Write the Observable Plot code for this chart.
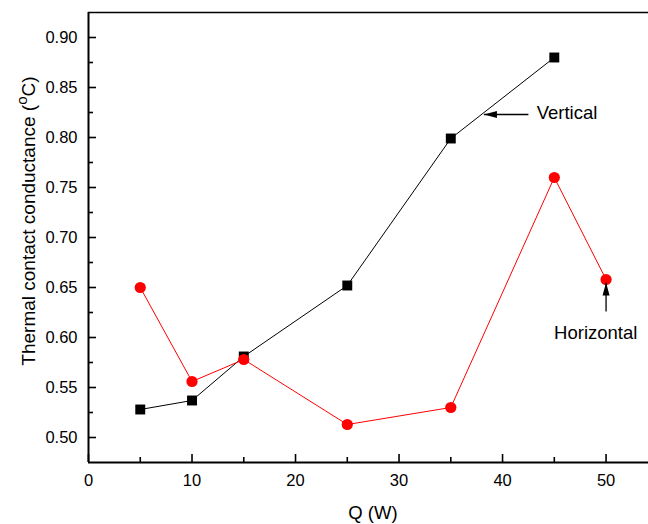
<!DOCTYPE html>
<html>
<head>
<meta charset="utf-8">
<script src="https://cdn.jsdelivr.net/npm/d3@7"></script>
<script src="https://cdn.jsdelivr.net/npm/@observablehq/plot@0.6"></script>
<style>
  html, body { margin: 0; padding: 0; background: #fff; }
</style>
</head>
<body>
<div id="chart"></div>
<script>
// Heat input Q (W) for each orientation
const qVertical = [5, 10, 15, 25, 35, 45];
const qHorizontal = [5, 10, 15, 25, 35, 45, 50];

// Thermal contact conductance values
const conductanceVertical = [0.528, 0.537, 0.581, 0.652, 0.799, 0.880];
const conductanceHorizontal = [0.650, 0.556, 0.578, 0.513, 0.530, 0.760, 0.658];

// Axis ticks
const xMajorTicks = [0, 10, 20, 30, 40, 50];
const xMinorTicks = [5, 15, 25, 35, 45];
const yMajorTicks = [0.50, 0.55, 0.60, 0.65, 0.70, 0.75, 0.80, 0.85, 0.90];
const yMinorTicks = [0.525, 0.575, 0.625, 0.675, 0.725, 0.775, 0.825, 0.875];

// Series callouts: label, label anchor, arrow tail and tip (data units)
const calloutLabels = ["Vertical", "Horizontal"];
const calloutTextX = [43.3, 49.0];
const calloutTextY = [0.824, 0.604];
const calloutTailX = [42.5, 50];
const calloutTailY = [0.823, 0.626];
const calloutTipX = [38.2, 50];
const calloutTipY = [0.823, 0.655];

const xDomain = [0, 54.1];
const yDomain = [0.475, 0.925];

const vertical = qVertical.map((q, i) => ({q, k: conductanceVertical[i]}));
const horizontal = qHorizontal.map((q, i) => ({q, k: conductanceHorizontal[i]}));
const callouts = calloutLabels.map((label, i) => ({
  label, tx: calloutTextX[i], ty: calloutTextY[i],
  x1: calloutTailX[i], y1: calloutTailY[i], x2: calloutTipX[i], y2: calloutTipY[i]
}));

// filled arrowheads with the tip at the origin
const headLeft = {draw(c) { c.moveTo(0, 0); c.lineTo(13, -3.5); c.lineTo(13, 3.5); c.closePath(); }};
const headUp = {draw(c) { c.moveTo(0, 0); c.lineTo(-3.5, 13); c.lineTo(3.5, 13); c.closePath(); }};

// inward tick marks drawn as short rules standing on the axis lines
const xTickRules = (ticks, len) =>
  Plot.ruleX(ticks, {y1: yDomain[0], y2: yDomain[0], insetTop: -len, stroke: "#000", strokeWidth: 1.6});
const yTickRules = (ticks, len) =>
  Plot.ruleY(ticks, {x1: xDomain[0], x2: xDomain[0], insetRight: -len, stroke: "#000", strokeWidth: 1.6});

const svg = Plot.plot({
  width: 648,
  height: 524,
  marginLeft: 88,
  marginRight: 0,
  marginTop: 12,
  marginBottom: 62,
  style: {fontFamily: "'Liberation Sans', Arial, sans-serif", fontSize: "16px", background: "#fff", color: "#000"},
  x: {domain: xDomain, label: null},
  y: {domain: yDomain, label: null},
  marks: [
    // frame top edge
    Plot.ruleY([yDomain[1]], {stroke: "#000", strokeWidth: 1.3}),
    xTickRules(xMajorTicks, 8),
    xTickRules(xMinorTicks, 5),
    yTickRules(yMajorTicks, 8),
    yTickRules(yMinorTicks, 5),
    // tick labels
    Plot.axisX(xMajorTicks, {tickSize: 0, tickPadding: 12, tickFormat: d3.format("d"), fontSize: 16.5, label: null}),
    Plot.axisY(yMajorTicks, {tickSize: 0, tickPadding: 11, tickFormat: d3.format(".2f"), fontSize: 16.5, label: null}),
    // axis lines
    Plot.ruleX([xDomain[0]], {stroke: "#000", strokeWidth: 2}),
    Plot.ruleY([yDomain[0]], {stroke: "#000", strokeWidth: 2}),
    // vertical orientation
    Plot.line(vertical, {x: "q", y: "k", stroke: "#000", strokeWidth: 1}),
    Plot.dot(vertical, {x: "q", y: "k", symbol: "square", r: 5.6, fill: "#000", stroke: "none"}),
    // horizontal orientation
    Plot.line(horizontal, {x: "q", y: "k", stroke: "#ff0000", strokeWidth: 1}),
    Plot.dot(horizontal, {x: "q", y: "k", symbol: "circle", r: 5.6, fill: "#ff0000", stroke: "none"}),
    // callouts
    Plot.link(callouts, {x1: "x1", y1: "y1", x2: "x2", y2: "y2", stroke: "#000", strokeWidth: 1.3}),
    Plot.dot(callouts.slice(0, 1), {x: "x2", y: "y2", symbol: headLeft, fill: "#000", stroke: "none"}),
    Plot.dot(callouts.slice(1), {x: "x2", y: "y2", symbol: headUp, fill: "#000", stroke: "none"}),
    Plot.text(callouts.slice(0, 1), {x: "tx", y: "ty", text: "label", textAnchor: "start", fontSize: 18.5, fill: "#000"}),
    Plot.text(callouts.slice(1), {x: "tx", y: "ty", text: "label", textAnchor: "middle", fontSize: 18.5, fill: "#000"})
  ]
});

// axis titles
const root = d3.select(svg);
root.append("text")
  .attr("x", 373)
  .attr("y", 519)
  .attr("text-anchor", "middle")
  .attr("font-size", 18.5)
  .attr("fill", "#000")
  .text("Q (W)");

const yTitle = root.append("text")
  .attr("transform", "translate(35,221) rotate(-90)")
  .attr("text-anchor", "middle")
  .attr("font-size", 19)
  .attr("fill", "#000");
yTitle.append("tspan").text("Thermal contact conductance (");
yTitle.append("tspan").attr("baseline-shift", "super").attr("font-size", "80%").text("o");
yTitle.append("tspan").text("C)");

document.getElementById("chart").appendChild(svg);
</script>
</body>
</html>
